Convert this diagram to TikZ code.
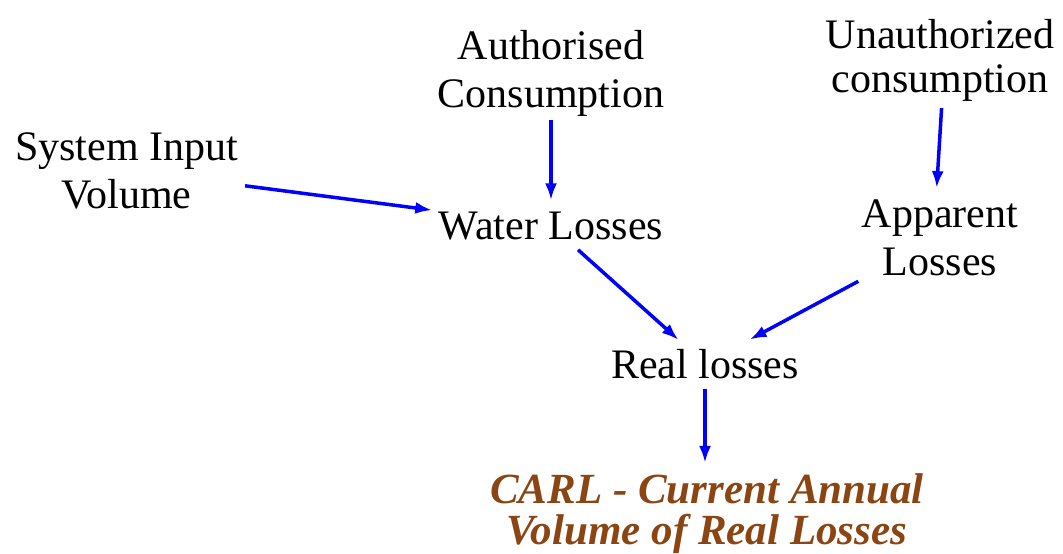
\documentclass[tikz,border=0pt]{standalone}
\usepackage{fontspec}
\setmainfont{Liberation Serif}
\usetikzlibrary{arrows.meta}
\definecolor{arrblue}{RGB}{0,0,255}
\definecolor{carlbrown}{RGB}{139,69,19}
\tikzset{
  lbl/.style={inner sep=0pt, align=center, anchor=base, font=\fontsize{42}{48}\selectfont},
  carlbox/.style={inner sep=0pt, align=center, anchor=base, text=carlbrown, font=\fontsize{43}{41}\selectfont\bfseries\itshape},
  arr/.style={draw=arrblue, line width=3.5pt, -{Latex[length=17pt,width=12pt]}}
}
\begin{document}
\begin{tikzpicture}[x=1pt,y=-1pt]
\useasboundingbox[fill=white] (0,0) rectangle (1063,554);
\node[lbl] (sys) at (126.5,208) {System Input\\Volume};
\node[lbl] (auth) at (551,107) {Authorised\\Consumption};
\node[lbl, font=\fontsize{42}{44}\selectfont] (unauth) at (940,92) {Unauthorized\\consumption};
\node[lbl] (water) at (551,239) {Water Losses};
\node[lbl] (appar) at (940,275) {Apparent\\Losses};
\node[lbl] (real) at (705,378) {Real losses};
\node[carlbox] (carl) at (707,544) {CARL - Current Annual\\Volume of Real Losses};
\draw[arr, shorten <=7pt, shorten >=9pt] (sys) -- (water);
\draw[arr, shorten <=4pt, shorten >=11pt] (auth.south) -- (water.north);
\draw[arr, shorten <=7pt, shorten >=11pt] ([xshift=2pt]unauth.south) -- ([xshift=-4pt]appar.north);
\draw[arr, shorten <=15pt, shorten >=13pt] (water) -- (real);
\draw[arr, shorten <=12pt, shorten >=19pt] (appar) -- (real);
\draw[arr, shorten <=10pt, shorten >=10pt] (real.south) -- (real.south |- carl.north);
\end{tikzpicture}
\end{document}
